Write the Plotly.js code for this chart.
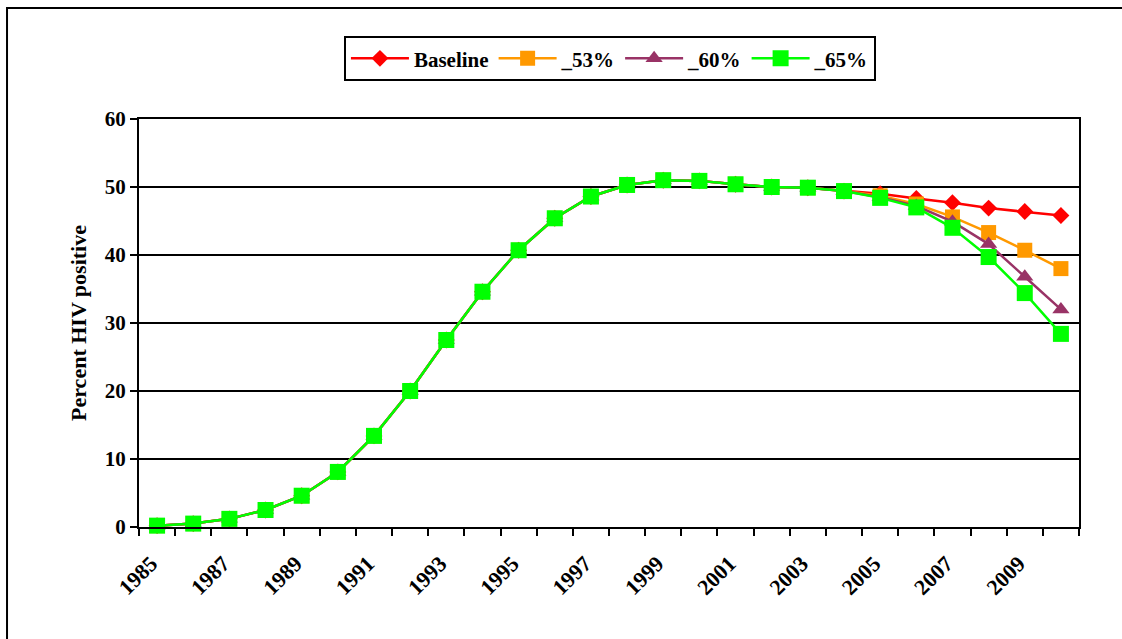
<!DOCTYPE html>
<html>
<head>
<meta charset="utf-8">
<script src="https://cdn.plot.ly/plotly-3.0.1.min.js"></script>
<style>
  html, body { margin: 0; padding: 0; background: #fff; }
  #chart { width: 1122px; height: 639px; }
</style>
</head>
<body>
<div id="chart"></div>
<script>
const years = [1985,1986,1987,1988,1989,1990,1991,1992,1993,1994,1995,1996,1997,1998,1999,2000,2001,2002,2003,2004,2005,2006,2007,2008,2009,2010];
const labelYears = [1985,1987,1989,1991,1993,1995,1997,1999,2001,2003,2005,2007,2009];

const baseline = [0.2,0.5,1.2,2.5,4.6,8.1,13.4,20.0,27.5,34.6,40.7,45.4,48.6,50.3,51.0,50.9,50.4,50.0,49.9,49.4,49.0,48.3,47.7,46.9,46.4,45.8];
const p53 =      [0.2,0.5,1.2,2.5,4.6,8.1,13.4,20.0,27.5,34.6,40.7,45.4,48.6,50.3,51.0,50.9,50.4,50.0,49.9,49.4,48.7,47.5,45.6,43.3,40.7,38.0];
const p60 =      [0.2,0.5,1.2,2.5,4.6,8.1,13.4,20.0,27.5,34.6,40.7,45.4,48.6,50.3,51.0,50.9,50.4,50.0,49.9,49.4,48.5,47.2,44.9,41.6,36.8,32.0];
const p65 =      [0.2,0.5,1.2,2.5,4.6,8.1,13.4,20.0,27.5,34.6,40.7,45.4,48.6,50.3,51.0,50.9,50.4,50.0,49.9,49.4,48.4,47.0,44.0,39.7,34.4,28.4];

const names = ['Baseline', '_53%', '_60%', '_65%'];
const colors = ['#FF0000', '#FF9900', '#993366', '#00FF00'];
const symbols = ['diamond', 'square', 'triangle-up', 'square'];
const sizes = [13, 15, 15, 16];
const series = [baseline, p53, p60, p65];

const FONT = 'Liberation Serif, Times New Roman, serif';

const traces = series.map((s, i) => ({
  x: years,
  y: s,
  name: names[i],
  type: 'scatter',
  mode: 'lines+markers',
  line: { color: colors[i], width: 2.5 },
  marker: { color: colors[i], symbol: symbols[i], size: sizes[i], line: { width: 0 } },
  cliponaxis: false
}));

const layout = {
  width: 1122,
  height: 639,
  margin: { l: 139, r: 43, t: 119, b: 112 },
  paper_bgcolor: '#fff',
  plot_bgcolor: '#fff',
  font: { family: FONT, color: '#000' },
  showlegend: true,
  legend: {
    orientation: 'h',
    x: 0.501, xanchor: 'center',
    y: 1.203, yanchor: 'top',
    bordercolor: '#000', borderwidth: 2,
    bgcolor: '#fff',
    itemwidth: 58,
    font: { family: FONT, size: 21, color: '#000', weight: 'bold' },
    traceorder: 'normal'
  },
  xaxis: {
    type: 'linear',
    range: [years[0] - 0.5, years[years.length - 1] + 0.5],
    tickmode: 'array',
    tickvals: labelYears,
    ticktext: labelYears.map(String),
    tickangle: -45,
    ticks: '',
    ticklabelshift: -6,
    ticklabelstandoff: 13,
    showgrid: false,
    zeroline: false,
    showline: true, linecolor: '#000', linewidth: 2, mirror: true,
    tickfont: { family: FONT, size: 22, color: '#000', weight: 'bold' },
    minor: { ticks: 'outside', tick0: years[0] - 0.5, dtick: 1, ticklen: 7, tickwidth: 2, tickcolor: '#000', showgrid: false }
  },
  yaxis: {
    range: [0, 60],
    tickmode: 'linear', tick0: 0, dtick: 10,
    ticks: 'outside', ticklen: 7, tickwidth: 2, tickcolor: '#000',
    showgrid: true, gridcolor: '#000', gridwidth: 2,
    zeroline: false,
    showline: true, linecolor: '#000', linewidth: 2, mirror: true,
    tickfont: { family: FONT, size: 21, color: '#000', weight: 'bold' },
    title: { text: 'Percent HIV positive', font: { family: FONT, size: 22, color: '#000', weight: 'bold' }, standoff: 12 }
  },
  shapes: [{
    type: 'rect', xref: 'paper', yref: 'paper',
    x0: -0.1404, x1: 1.2, y0: -0.5, y1: 1.2721,
    line: { color: '#000', width: 2 }, fillcolor: 'rgba(0,0,0,0)', layer: 'below'
  }]
};

Plotly.newPlot('chart', traces, layout, { displayModeBar: false, staticPlot: true });
</script>
</body>
</html>
